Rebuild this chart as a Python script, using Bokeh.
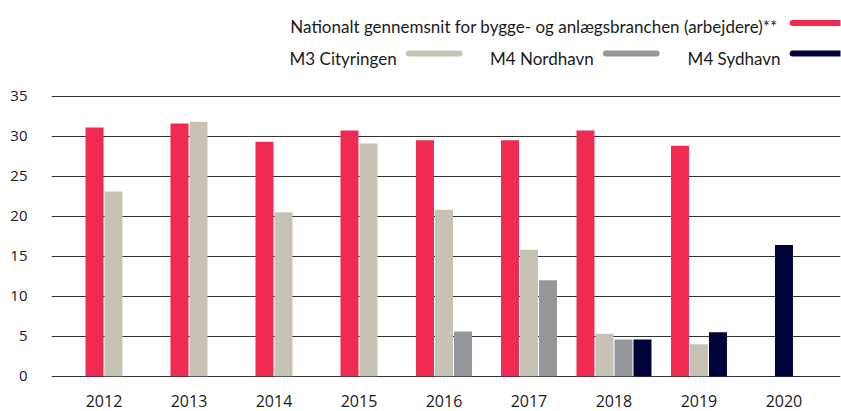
from bokeh.plotting import figure
from bokeh.models import ColumnDataSource, Range1d, FixedTicker
from bokeh.layouts import column
from bokeh.embed import file_html
from bokeh.resources import INLINE
from bokeh.core.properties import value

# ---------------- data ----------------
years = ["2012", "2013", "2014", "2015", "2016", "2017", "2018", "2019", "2020"]
national = [31.1, 31.6, 29.3, 30.7, 29.5, 29.5, 30.7, 28.8, None]
m3_cityringen = [23.1, 31.8, 20.5, 29.1, 20.8, 15.8, 5.3, 4.0, None]
m4_nordhavn = [None, None, None, None, 5.6, 12.0, 4.6, None, None]
m4_sydhavn = [None, None, None, None, None, None, 4.6, 5.5, 16.4]
y_ticks = [0, 5, 10, 15, 20, 25, 30, 35]

series_names = [
    "Nationalt gennemsnit for bygge- og anlægsbranchen (arbejdere)**",
    "M3 Cityringen",
    "M4 Nordhavn",
    "M4 Sydhavn",
]
series_values = [national, m3_cityringen, m4_nordhavn, m4_sydhavn]
colors = ["#EF2B52", "#C6C3B4", "#96979B", "#00033A"]

TEXT = "#1a1a1a"
BAR_W = 18 / 85
STEP = 19 / 85

# ---------------- bars (compacted, centred per year) ----------------
xs, tops, cols = [], [], []
for i, _ in enumerate(years):
    present = [k for k, s in enumerate(series_values) if s[i] is not None]
    n = len(present)
    for j, k in enumerate(present):
        xs.append(i + (j - (n - 1) / 2) * STEP)
        tops.append(series_values[k][i])
        cols.append(colors[k])
src = ColumnDataSource(dict(x=xs, top=tops, color=cols))

# ---------------- legend figure ----------------
W = 841
LEG_H = 78
leg = figure(width=W, height=LEG_H, x_range=Range1d(0, W), y_range=Range1d(LEG_H, 0),
             toolbar_location=None, output_backend="svg",
             x_axis_type=None, y_axis_type=None, min_border=0,
             outline_line_color=None)
leg.xgrid.visible = False
leg.ygrid.visible = False

# legend layout: (text right edge, baseline, swatch start, swatch centre y)
leg_layout = [
    (774, 25.5, 787, 22.5),
    (368, 57.5, 378, 53),
    (578, 57.5, 588, 53),
    (777, 57.5, 787, 53),
]
SW_LEN = 60
for (tx, ty, sx, sy), name, c in zip(leg_layout, series_names, colors):
    leg.text(x=[tx], y=[ty], text=[name], text_align="right",
             text_baseline="alphabetic", text_font=value("Lato"),
             text_font_size="17px", text_color=TEXT)
    leg.segment(x0=[sx + 3], y0=[sy], x1=[sx + SW_LEN - 3], y1=[sy],
                line_color=c, line_width=6, line_cap="round")

# ---------------- main chart ----------------
MAIN_H = 411 - LEG_H
p = figure(width=W, height=MAIN_H,
           x_range=Range1d(-0.6176, 8.665), y_range=Range1d(-0.2875, 35.3375),
           toolbar_location=None, output_backend="svg",
           min_border_left=51, min_border_right=1, min_border_top=15,
           min_border_bottom=33, outline_line_color=None)

p.vbar(x="x", top="top", bottom=0, width=BAR_W, color="color",
       line_color=None, source=src)

p.xgrid.visible = False
p.ygrid.ticker = FixedTicker(ticks=y_ticks)
p.ygrid.grid_line_color = "#333333"
p.ygrid.grid_line_width = 1.2

p.yaxis.ticker = FixedTicker(ticks=y_ticks)
p.xaxis.ticker = FixedTicker(ticks=list(range(len(years))))
p.xaxis.major_label_overrides = {i: y for i, y in enumerate(years)}

for ax in (p.xaxis, p.yaxis):
    ax.axis_line_color = None
    ax.major_tick_line_color = None
    ax.minor_tick_line_color = None
    ax.major_tick_out = 0
    ax.major_tick_in = 0
    ax.minor_tick_out = 0
    ax.minor_tick_in = 0
    ax.major_label_text_font = "Open Sans"
    ax.major_label_text_color = TEXT

p.yaxis.major_label_text_font_size = "15px"
p.yaxis.major_label_standoff = 24
p.xaxis.major_label_text_font_size = "16px"
p.xaxis.major_label_standoff = 16

layout = column(leg, p, spacing=0)
open("out.html", "w").write(file_html(layout, INLINE))
